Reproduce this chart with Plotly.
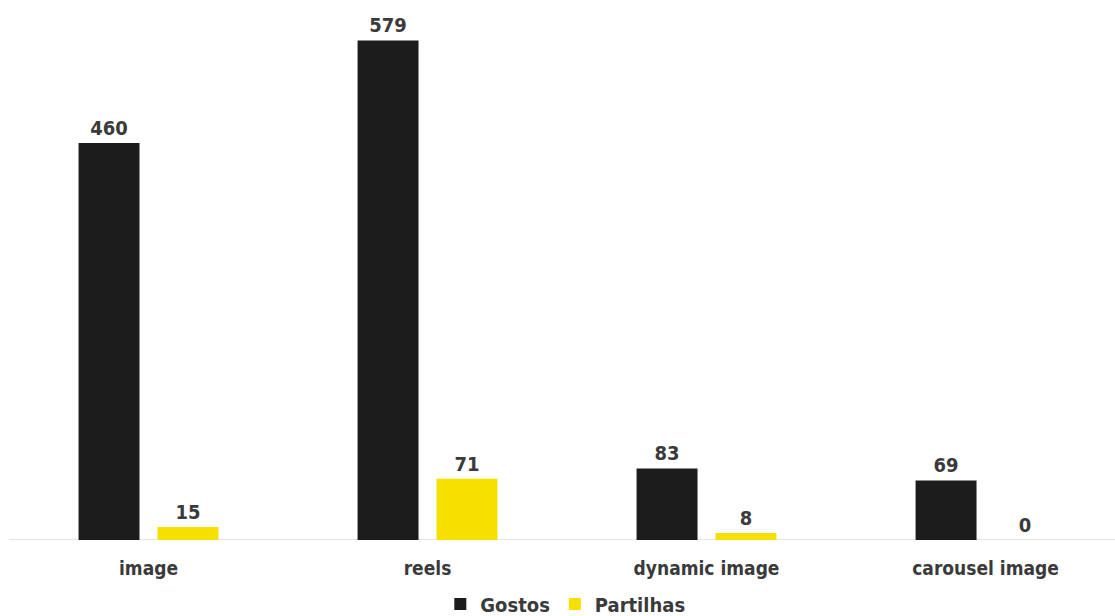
import plotly.graph_objects as go

categories = ["image", "reels", "dynamic image", "carousel image"]
gostos = [460, 579, 83, 69]
partilhas = [15, 71, 8, 0]

FONT = "Liberation Sans Narrow, DejaVu Sans Condensed, Liberation Sans, sans-serif"
TXT = "#3a3a3a"

fig = go.Figure()
fig.add_trace(go.Bar(
    x=categories, y=gostos, name="Gostos",
    marker=dict(color="#1c1c1c", line=dict(width=0)),
    text=gostos, textposition="outside", cliponaxis=False,
    textfont=dict(family=FONT, size=20, color=TXT, weight="bold"),
))
fig.add_trace(go.Bar(
    x=categories, y=partilhas, name="Partilhas",
    marker=dict(color="#f7e000", line=dict(width=0)),
    text=partilhas, textposition="outside", cliponaxis=False,
    textfont=dict(family=FONT, size=20, color=TXT, weight="bold"),
))

fig.update_layout(
    width=1115, height=616,
    margin=dict(l=9, r=0, t=5, b=76, autoexpand=False),
    paper_bgcolor="white", plot_bgcolor="white",
    barmode="group", bargap=0.434, bargroupgap=0.228,
    font=dict(family=FONT, color=TXT, size=18, weight="bold"),
    showlegend=True,
    legend=dict(orientation="h", x=0.503, xanchor="center",
                yref="container", y=1 - 604 / 616, yanchor="middle",
                font=dict(family=FONT, size=20, color=TXT, weight="bold"),
                itemwidth=30, tracegroupgap=0),
)
fig.update_xaxes(range=[-0.5, 3.464], showgrid=False, showline=False,
                 ticks="outside", ticklen=11, tickcolor="rgba(0,0,0,0)",
                 automargin=False,
                 tickfont=dict(family=FONT, size=19, color=TXT, weight="bold"))
fig.update_yaxes(range=[0, 620], visible=False, showgrid=False, zeroline=False,
                 automargin=False)
fig.add_shape(type="line", xref="paper", yref="y", x0=0, x1=1, y0=0, y1=0,
              line=dict(color="#dcdcdc", width=1.5), layer="below")

fig.write_html("out.html")
